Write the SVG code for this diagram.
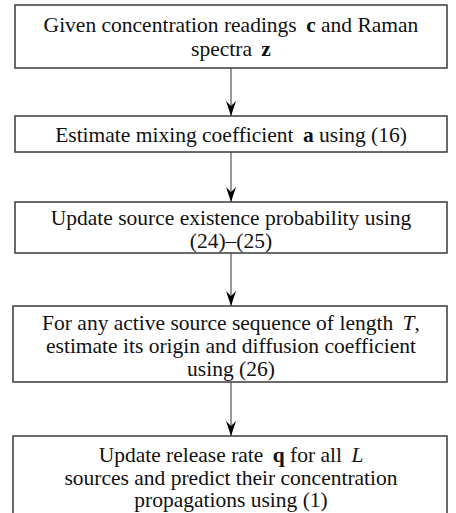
<svg xmlns="http://www.w3.org/2000/svg" width="456" height="513" viewBox="0 0 456 513">
  <style>
    .box { fill: #ffffff; stroke: #3a3a3a; stroke-width: 1.5; }
    .lbl { font-family: 'Liberation Serif', 'DejaVu Serif', serif; font-size: 21.5px; fill: #111111; text-anchor: middle; }
    .b { font-weight: bold; }
    .i { font-style: italic; }
    .edge { stroke: #555555; stroke-width: 1.2; fill: none; }
  </style>
  <defs>
    <!-- barbed arrowhead, drawn pointing along +x -->
    <marker id="head" viewBox="0 0 15 10" markerWidth="15" markerHeight="10" refX="15" refY="5" orient="auto" markerUnits="userSpaceOnUse">
      <path d="M15,5 L0,0 L5,5 L0,10 Z" fill="#000000"/>
    </marker>
  </defs>
  <rect width="456" height="513" fill="#ffffff"/>

  <g id="connectors">
    <line class="edge" x1="231" y1="68" x2="231" y2="116" marker-end="url(#head)"/>
    <line class="edge" x1="231" y1="152" x2="231" y2="202" marker-end="url(#head)"/>
    <line class="edge" x1="231" y1="253" x2="231" y2="306" marker-end="url(#head)"/>
    <line class="edge" x1="231" y1="382" x2="231" y2="436" marker-end="url(#head)"/>
  </g>

  <g id="node-input">
    <rect class="box" x="15" y="5" width="432" height="63"/>
    <text class="lbl" x="231" y="32">Given concentration readings <tspan class="b" dx="4">c</tspan> and Raman</text>
    <text class="lbl" x="231" y="56">spectra <tspan class="b" dx="4">z</tspan></text>
  </g>

  <g id="node-mixing">
    <rect class="box" x="15" y="116" width="432" height="36"/>
    <text class="lbl" x="231" y="142">Estimate mixing coefficient <tspan class="b" dx="4">a</tspan> using (16)</text>
  </g>

  <g id="node-existence">
    <rect class="box" x="15" y="202" width="432" height="51"/>
    <text class="lbl" x="231" y="225">Update source existence probability using</text>
    <text class="lbl" x="231" y="248">(24)–(25)</text>
  </g>

  <g id="node-origin">
    <rect class="box" x="13" y="306" width="434" height="76"/>
    <text class="lbl" x="231" y="330">For any active source sequence of length <tspan class="i" dx="4">T</tspan>,</text>
    <text class="lbl" x="231" y="353">estimate its origin and diffusion coefficient</text>
    <text class="lbl" x="231" y="376">using (26)</text>
  </g>

  <!-- last box runs past the bottom edge, so no lower border shows -->
  <g id="node-release">
    <rect class="box" x="13" y="436" width="434" height="100"/>
    <text class="lbl" x="231" y="462">Update release rate <tspan class="b" dx="4">q</tspan> for all <tspan class="i" dx="4">L</tspan></text>
    <text class="lbl" x="231" y="485">sources and predict their concentration</text>
    <text class="lbl" x="231" y="507">propagations using (1)</text>
  </g>
</svg>
